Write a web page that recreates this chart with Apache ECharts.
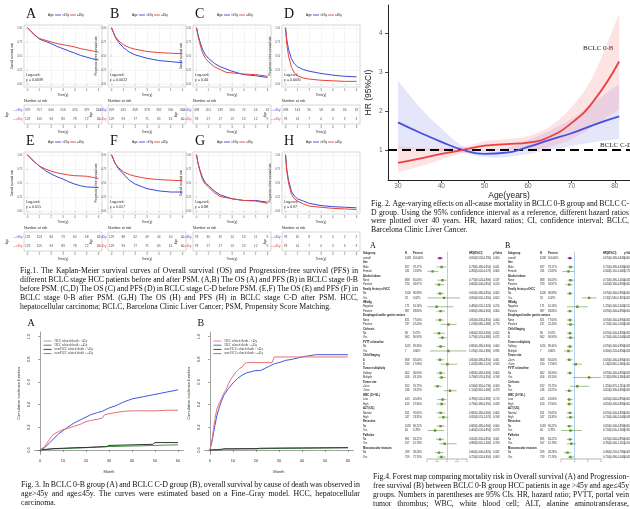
<!DOCTYPE html>
<html><head><meta charset="utf-8">
<script src="https://cdn.jsdelivr.net/npm/echarts@6.0.0/dist/echarts.min.js"></script>
<style>html,body{margin:0;padding:0;background:#fff;}#c{width:630px;height:509px;}</style>
</head><body><div id="c"></div>
<script>
// ================= Fig.1 data (Kaplan-Meier) =================
const kmTimeTicks = [0,1,2,3,4,5,6];
const kmSurvTicks = [0,0.25,0.5,0.75,1];
const kmLetters = ['A','B','C','D','E','F','G','H'];
const kmYTitles = ['Overall survival rate','Progression-free survival rate','Overall survival rate','Progression-free survival rate','Overall survival rate','Progression-free survival rate','Overall survival rate','Progression-free survival rate'];
const kmPValues = ['0.0089','0.0022','0.44','0.0081','0.015','0.017','0.88','0.97'];
const kmGroups = ['>45y','\u226445y'];

const kmA_gt45 = [[0,1],[0.25,0.95],[0.5,0.89],[1,0.80],[1.5,0.76],[2,0.72],[2.5,0.67],[3,0.63],[3.5,0.59],[4,0.55],[4.5,0.51],[5,0.48],[5.5,0.45],[6,0.43]];
const kmA_le45 = [[0,1],[0.25,0.95],[0.5,0.89],[1,0.81],[1.5,0.78],[2,0.75],[2.5,0.72],[3,0.70],[3.5,0.68],[4,0.66],[4.5,0.63],[5,0.61],[5.5,0.59],[6,0.57]];
const kmB_gt45 = [[0,1],[0.3,0.84],[0.6,0.74],[1,0.65],[1.5,0.57],[2,0.52],[2.5,0.49],[3,0.46],[4,0.42],[5,0.40],[6,0.38]];
const kmB_le45 = [[0,1],[0.3,0.85],[0.6,0.77],[1,0.70],[1.5,0.65],[2,0.62],[2.5,0.60],[3,0.58],[4,0.56],[5,0.55],[6,0.54]];
const kmC_gt45 = [[0,1],[0.1,0.9],[0.25,0.78],[0.5,0.62],[0.75,0.52],[1,0.46],[1.5,0.37],[2,0.31],[2.5,0.27],[3,0.23],[3.5,0.2],[4,0.17],[5,0.15],[6,0.12]];
const kmC_le45 = [[0,1],[0.1,0.88],[0.25,0.74],[0.5,0.56],[0.75,0.46],[1,0.40],[1.5,0.31],[2,0.26],[2.5,0.21],[3,0.20],[4,0.18],[5,0.17],[6,0.14]];
const kmD_gt45 = [[0,1],[0.1,0.8],[0.25,0.62],[0.5,0.45],[0.75,0.36],[1,0.31],[1.5,0.26],[2,0.23],[3,0.19],[4,0.16],[5,0.14],[6,0.13]];
const kmD_le45 = [[0,1],[0.1,0.72],[0.25,0.5],[0.5,0.3],[0.75,0.2],[1,0.15],[1.5,0.11],[2,0.09],[3,0.07],[4,0.06],[5,0.05],[6,0.05]];
const kmE_gt45 = [[0,1],[0.5,0.89],[1,0.80],[1.5,0.72],[2,0.66],[2.5,0.61],[3,0.57],[3.5,0.52],[4,0.48],[4.5,0.45],[5,0.43],[6,0.42]];
const kmE_le45 = [[0,1],[0.5,0.89],[1,0.80],[1.5,0.75],[2,0.71],[2.5,0.68],[3,0.66],[3.5,0.64],[4,0.63],[5,0.62],[5.5,0.60],[6,0.58]];
const kmF_gt45 = [[0,1],[0.3,0.85],[0.6,0.75],[1,0.66],[1.5,0.55],[2,0.48],[2.5,0.44],[3,0.40],[4,0.36],[5,0.34],[6,0.34]];
const kmF_le45 = [[0,1],[0.3,0.85],[0.6,0.77],[1,0.70],[1.5,0.65],[2,0.62],[2.5,0.60],[3,0.58],[4,0.56],[5,0.55],[6,0.54]];
const kmG_gt45 = [[0,1],[0.1,0.88],[0.25,0.75],[0.5,0.6],[0.75,0.5],[1,0.46],[1.5,0.36],[2,0.29],[3,0.22],[4,0.19],[5,0.19],[6,0.16]];
const kmG_le45 = [[0,1],[0.1,0.88],[0.25,0.74],[0.5,0.56],[0.75,0.48],[1,0.43],[1.5,0.33],[2,0.26],[3,0.22],[4,0.19],[5,0.18],[6,0.14]];
const kmH_gt45 = [[0,1],[0.1,0.75],[0.25,0.55],[0.5,0.35],[0.75,0.27],[1,0.22],[1.5,0.18],[2,0.14],[3,0.10],[4,0.08],[5,0.07],[6,0.06]];
const kmH_le45 = [[0,1],[0.1,0.72],[0.25,0.5],[0.5,0.3],[0.75,0.22],[1,0.18],[1.5,0.13],[2,0.09],[3,0.07],[4,0.05],[5,0.04],[6,0.03]];

const riskA_gt45 = [929,757,640,556,476,379,293], riskA_le45 = [129,105,94,83,78,72,59];
const riskB_gt45 = [929,625,458,378,332,300,268], riskB_le45 = [129,93,77,71,65,61,60];
const riskC_gt45 = [498,201,139,100,74,54,42],   riskC_le45 = [78,27,17,13,13,12,9];
const riskD_gt45 = [498,143,90,58,44,36,32],     riskD_le45 = [78,14,7,4,3,3,3];
const riskE_gt45 = [129,103,84,73,60,48,37],     riskE_le45 = [129,105,94,83,78,72,59];
const riskF_gt45 = [129,88,62,49,44,40,40],      riskF_le45 = [129,93,77,71,65,61,60];
const riskG_gt45 = [78,30,19,14,13,11,9],        riskG_le45 = [78,27,17,13,13,12,9];
const riskH_gt45 = [78,16,8,3,3,2,2],            riskH_le45 = [78,14,7,4,3,3,3];

// ================= Fig.2 data (age-varying HR) =================
const fig2Ages   = [30,35,40,45,50,55,60,65,70,75,81];
const fig2Red_hr = [0.67,0.78,0.90,1.00,1.11,1.15,1.19,1.34,1.69,2.24,3.27];
const fig2Red_lo = [0.42,0.58,0.75,0.92,0.98,1.00,1.00,1.08,1.28,1.60,2.05];
const fig2Red_hi = [1.10,1.05,1.05,1.08,1.22,1.28,1.36,1.60,2.10,2.90,4.50];
const fig2Blue_hr = [1.71,1.45,1.21,1.00,0.90,0.93,1.08,1.26,1.43,1.64,1.86];
const fig2Blue_lo = [1.03,1.00,0.97,0.92,0.82,0.82,0.90,1.00,1.10,1.20,1.28];
const fig2Blue_hi = [2.78,2.10,1.55,1.10,1.00,1.05,1.25,1.50,1.80,2.20,2.70];
const fig2XTicks = [30,40,50,60,70,80];
const fig2YTicks = [1,2,3,4];

// ================= Fig.3 data (cumulative incidence) =================
const fig3XTicks = [0,10,20,30,40,50,60];
const fig3YTicks = [0,0.2,0.4,0.6,0.8,1.0];
const fig3Legend = ['HCC related death : >45y','HCC related death : \u226445y','non-HCC related death : >45y','non-HCC related death : \u226445y'];
const fig3A_hcc_gt45 = [[0,0],[2,0.03],[3,0.06],[4,0.09],[5,0.12],[6,0.14],[8,0.16],[10,0.18],[12,0.19],[15,0.21],[18,0.23],[20,0.25],[22,0.26],[25,0.27],[27,0.28],[28,0.31],[30,0.32],[33,0.33],[36,0.34],[40,0.345],[50,0.345],[55,0.35],[60,0.35]];
const fig3A_hcc_le45 = [[0,0],[2,0.02],[4,0.06],[6,0.10],[8,0.14],[10,0.17],[12,0.20],[15,0.24],[18,0.27],[20,0.29],[22,0.31],[25,0.33],[27,0.34],[30,0.37],[33,0.39],[36,0.42],[40,0.45],[45,0.47],[50,0.49],[55,0.51],[60,0.53]];
const fig3A_non_gt45 = [[0,0],[3,0.005],[6,0.012],[10,0.015],[15,0.02],[20,0.022],[25,0.027],[29,0.03],[30,0.04],[40,0.045],[49,0.05],[50,0.065],[60,0.065]];
const fig3A_non_le45 = [[0,0],[5,0.01],[10,0.012],[15,0.015],[20,0.02],[25,0.024],[30,0.03],[35,0.032],[40,0.035],[45,0.037],[50,0.04],[55,0.043],[60,0.045]];
const fig3B_hcc_gt45 = [[0,0],[1,0.10],[2,0.25],[3,0.36],[4,0.41],[5,0.45],[6,0.50],[7,0.53],[8,0.58],[9,0.62],[10,0.65],[11,0.68],[12,0.70],[13,0.72],[14,0.73],[15,0.76],[16,0.77],[27,0.77],[28,0.82],[60,0.82]];
const fig3B_hcc_le45 = [[0,0],[1,0.08],[2,0.2],[3,0.3],[4,0.37],[5,0.43],[6,0.48],[8,0.54],[10,0.59],[12,0.63],[14,0.66],[16,0.68],[18,0.69],[20,0.70],[22,0.70],[24,0.72],[26,0.74],[28,0.76],[30,0.77],[33,0.79],[36,0.80],[40,0.82],[43,0.83],[46,0.84],[60,0.84]];
const fig3B_non_gt45 = [[0,0],[5,0.002],[6,0.01],[20,0.012],[22,0.015],[30,0.017],[60,0.02]];
const fig3B_non_le45 = [[0,0],[6,0.008],[20,0.01],[25,0.012],[40,0.015],[60,0.02]];

// ================= Fig.4 data (forest plots) =================
const forestA_labels = ['Subgroup','overall','Sex','Male','Female','Alcohol abuse','None','Positive','Family history of HCC','No','Yes','HBsAg','Negative','Positive','Esophageal and/or gastric varices','None','Positive','Cirrhosis','No','Yes','PVTT at baseline','No','Yes','Child Staging','A','B','Tumor multiplicity','Solitary','Multiple','Tumor size','\u22645cm','>5cm','WBC (10^9/L)','Low','High','ALT (U/L)','Normal','High','Resection','No','Yes','Palliative','No','Yes','Microvascular invasion','No','Yes'];
const forestA_n  = [null,1058,null,827,231,null,688,370,null,1026,32,null,171,887,null,821,237,null,96,962,null,1051,7,null,868,190,null,602,456,null,812,246,null,445,613,null,811,247,null,1018,40,null,891,167,null,299,759];
const forestA_hr = [null,0.65,null,0.73,0.28,null,0.77,0.60,null,0.65,0.85,null,0.48,0.68,null,0.65,1.07,null,0.60,0.77,null,0.68,1.07,null,0.65,1.02,null,0.68,0.73,null,0.53,1.15,null,0.78,0.73,null,0.68,0.82,null,0.68,0.40,null,0.65,0.88,null,0.60,0.72];
const forestA_lo = [null,0.52,null,0.48,0.02,null,0.52,0.40,null,0.48,0.02,null,0.02,0.48,null,0.43,0.68,null,0.32,0.57,null,0.48,0.15,null,0.48,0.68,null,0.48,0.57,null,0.35,0.85,null,0.52,0.48,null,0.48,0.57,null,0.48,0.02,null,0.45,0.62,null,0.40,0.52];
const forestA_hi = [null,0.78,null,0.95,0.57,null,0.98,0.85,null,0.85,1.65,null,1.32,0.90,null,0.85,1.48,null,0.90,0.98,null,0.90,1.98,null,0.85,1.52,null,0.90,0.95,null,0.73,1.48,null,0.98,0.95,null,0.90,1.07,null,0.90,0.85,null,0.85,1.48,null,0.82,0.95];
const forestA_p  = [null,'0.000',null,'0.041','0.004',null,'0.137','0.010',null,'0.005','0.652',null,'0.214','0.004',null,'0.004','0.770',null,'0.012','0.072',null,'0.004','0.935',null,'0.001','0.924',null,'0.004','0.198',null,'0.000','0.473',null,'0.170','0.033',null,'0.004','0.198',null,'0.004','0.073',null,'0.001','0.370',null,'0.032','0.003'];

const forestB_labels = ['Subgroup','overall','Sex','Male','Female','Alcohol abuse','None','Positive','Family history of HCC','No','Yes','HBsAg','Negative','Positive','Esophageal and/or gastric varices','None','Positive','Child Staging','A','B','Tumor multiplicity','Solitary','Multiple','Tumor size','\u22645cm','>5cm','PVTT at baseline','No','Yes','Cirrhosis','No','Yes','WBC (10^9/L)','Low','High','ALT (U/L)','Normal','High','Resection','No','Yes','Palliative','No','Yes','Microvascular invasion','No','Yes'];
const forestB_n  = [null,1058,null,827,231,null,688,370,null,1026,32,null,171,887,null,821,237,null,96,962,null,1051,7,null,868,190,null,602,456,null,812,246,null,445,613,null,811,247,null,1018,40,null,891,167,null,299,759];
const forestB_hr = [null,0.67,null,0.71,0.56,null,0.71,0.62,null,0.67,2.11,null,1.22,0.67,null,0.67,0.71,null,0.67,0.71,null,0.67,0.56,null,0.62,1.11,null,0.67,2.11,null,1.22,0.62,null,0.62,0.62,null,0.67,0.71,null,0.62,0.71,null,0.67,0.78,null,0.49,0.71];
const forestB_lo = [null,0.49,null,0.49,0.11,null,0.49,0.33,null,0.44,1.56,null,0.44,0.44,null,0.44,0.44,null,0.44,0.44,null,0.44,0.22,null,0.40,0.84,null,0.44,0.89,null,0.67,0.33,null,0.44,0.40,null,0.44,0.40,null,0.40,0.02,null,0.44,0.44,null,0.22,0.49];
const forestB_hi = [null,0.84,null,0.93,1.00,null,1.00,0.89,null,0.89,2.67,null,2.00,0.89,null,0.89,1.00,null,0.89,1.00,null,0.89,0.89,null,0.89,1.56,null,0.89,3.56,null,2.11,0.89,null,0.89,0.89,null,0.89,1.00,null,0.89,1.56,null,0.89,1.11,null,0.78,1.00];
const forestB_p  = [null,'0.000',null,'0.003','0.171',null,'0.041','0.002',null,'0.000','0.001',null,'0.512','0.000',null,'0.001','0.045',null,'0.001','0.041',null,'0.001','0.058',null,'0.000','0.402',null,'0.001','0.061',null,'0.433','0.001',null,'0.001','0.002',null,'0.000','0.049',null,'0.000','0.392',null,'0.001','0.254',null,'0.001','0.043'];

// ================= Captions =================
const cap1Lines = [
 'Fig.1. The Kaplan-Meier survival curves of Overall survival (OS) and Progression-free survival (PFS) in',
 'different BCLC stage HCC patients before and after PSM. (A,B) The OS (A) and PFS (B) in BCLC stage 0-B',
 'before PSM. (C,D) The OS (C) and PFS (D) in BCLC stage C-D before PSM. (E,F) The OS (E) and PFS (F) in',
 'BCLC stage 0-B after PSM. (G,H) The OS (H) and PFS (H) in BCLC stage C-D after PSM. HCC,',
 'hepatocellular carcinoma; BCLC, Barcelona Clinic Liver Cancer; PSM, Propensity Score Matching.'];
const cap2Lines = [
 'Fig. 2. Age-varying effects on all-cause mortality in BCLC 0-B group and BCLC C-',
 'D group. Using the 95% confidence interval as a reference, different hazard ratios',
 'were plotted over 40 years. HR, hazard ratios; CI, confidence interval; BCLC,',
 'Barcelona Clinic Liver Cancer.'];
const cap3Lines = [
 'Fig. 3. In BCLC 0-B group (A) and BCLC C-D group (B), overall survival by cause of death was observed in',
 'age>45y and age\u226445y. The curves were estimated based on a Fine\u2013Gray model. HCC, hepatocellular',
 'carcinoma.'];
const cap4Lines = [
 'Fig.4. Forest map comparing mortality risk in Overall survival (A) and Progression-',
 'free survival (B) between BCLC 0-B group HCC patients in age >45y and age\u226445y',
 'groups. Numbers in parentheses are 95% CIs. HR, hazard ratio; PVTT, portal vein',
 'tumor thrombus; WBC, white blood cell; ALT, alanine aminotransferase,'];

// ================= build =================
const BLUE = '#3c48d6', RED = '#e8433a';
const SANS = '"Liberation Sans", Arial, sans-serif';
const SERIF = '"Liberation Serif", "Times New Roman", serif';
const grids = [], xAxes = [], yAxes = [], series = [], graphics = [];
function addGrid(g) { grids.push(Object.assign({ containLabel: false }, g)); return grids.length - 1; }
function txt(x, y, text, o) {
  o = o || {};
  graphics.push({ type: 'text', x, y, silent: true, rotation: o.rotation || 0,
    style: { text, fill: o.color || '#222', fontSize: o.size || 4, fontFamily: o.family || SANS,
      fontWeight: o.weight || 'normal', align: o.align || 'left', verticalAlign: o.va || 'middle' } });
}
function seg(x1, y1, x2, y2, color, w) {
  graphics.push({ type: 'line', silent: true, shape: { x1, y1, x2, y2 }, style: { stroke: color, lineWidth: w || 1 } });
}

// ---- Fig.1 ----
const kmCurves = [[kmA_gt45,kmA_le45],[kmB_gt45,kmB_le45],[kmC_gt45,kmC_le45],[kmD_gt45,kmD_le45],[kmE_gt45,kmE_le45],[kmF_gt45,kmF_le45],[kmG_gt45,kmG_le45],[kmH_gt45,kmH_le45]];
const kmRisk = [[riskA_gt45,riskA_le45],[riskB_gt45,riskB_le45],[riskC_gt45,riskC_le45],[riskD_gt45,riskD_le45],[riskE_gt45,riskE_le45],[riskF_gt45,riskF_le45],[riskG_gt45,riskG_le45],[riskH_gt45,riskH_le45]];
const kmCols = [24, 108, 193, 282], kmW = 78, kmH = 62;
const kmTops = [25, 152], riskTops = [105, 232], riskH = 19;
kmLetters.forEach((letter, i) => {
  const col = i % 4, row = Math.floor(i / 4);
  const left = kmCols[col], top = kmTops[row];
  const gi = addGrid({ left, top, width: kmW, height: kmH, show: true, borderColor: '#bdbdbd', borderWidth: 0.6 });
  xAxes.push({ gridIndex: gi, type: 'value', min: -0.3, max: 6.3, splitNumber: 7,
    name: 'Time(y)', nameLocation: 'middle', nameGap: 7, nameTextStyle: { fontSize: 3.2, color: '#333', fontFamily: SANS },
    axisLine: { show: false },
    axisTick: { show: true, customValues: kmTimeTicks, length: 1.2, lineStyle: { color: '#888', width: 0.4 } },
    axisLabel: { customValues: kmTimeTicks, fontSize: 2.8, color: '#555', margin: 2.2 },
    splitLine: { show: true, lineStyle: { color: '#ebebeb', width: 0.5 } } });
  yAxes.push({ gridIndex: gi, type: 'value', min: -0.05, max: 1.05, splitNumber: 4,
    name: kmYTitles[i], nameLocation: 'middle', nameGap: 8, nameRotate: 90, nameTextStyle: { fontSize: 3, color: '#333', fontFamily: SANS },
    axisLine: { show: false },
    axisTick: { show: true, customValues: kmSurvTicks, length: 1.2, lineStyle: { color: '#888', width: 0.4 } },
    axisLabel: { customValues: kmSurvTicks, fontSize: 2.6, color: '#555', margin: 1.8, formatter: v => v.toFixed(2) },
    splitLine: { show: true, lineStyle: { color: '#ebebeb', width: 0.5 } } });
  [0, 1].forEach(k => series.push({ type: 'line', xAxisIndex: gi, yAxisIndex: gi, data: kmCurves[i][k], symbol: 'none',
    lineStyle: { color: k === 0 ? BLUE : RED, width: 1 }, silent: true, z: k === 0 ? 3 : 4 }));
  txt(left + 2, top - 11, letter, { size: 14, family: SERIF, color: '#111' });
  const lx = left + 24, ly = top - 10;
  txt(lx, ly, 'Age', { size: 3.2 });
  seg(lx + 7, ly, lx + 13, ly, BLUE, 0.9); txt(lx + 14, ly, kmGroups[0], { size: 3.2 });
  seg(lx + 22, ly, lx + 28, ly, RED, 0.9); txt(lx + 29, ly, kmGroups[1], { size: 3.2 });
  txt(left + 2, top + kmH - 12, 'Log-rank', { size: 3.6 });
  txt(left + 2, top + kmH - 7, 'p = ' + kmPValues[i], { size: 3.6 });
  const rt = riskTops[row];
  const ri = addGrid({ left, top: rt, width: kmW, height: riskH, show: true, borderColor: '#bdbdbd', borderWidth: 0.6 });
  xAxes.push({ gridIndex: ri, type: 'value', min: -0.3, max: 6.3, splitNumber: 7,
    name: 'Time(y)', nameLocation: 'middle', nameGap: 7, nameTextStyle: { fontSize: 3.2, color: '#333', fontFamily: SANS },
    axisLine: { show: false },
    axisTick: { show: true, customValues: kmTimeTicks, length: 1.2, lineStyle: { color: '#888', width: 0.4 } },
    axisLabel: { customValues: kmTimeTicks, fontSize: 2.8, color: '#555', margin: 2.2 },
    splitLine: { show: false } });
  yAxes.push({ gridIndex: ri, type: 'category', data: [kmGroups[1], kmGroups[0]],
    name: 'Age', nameLocation: 'middle', nameGap: 10, nameRotate: 90, nameTextStyle: { fontSize: 3.2, color: '#333' },
    axisLine: { show: false }, axisTick: { show: false },
    axisLabel: { fontSize: 3, margin: 1.5, formatter: v => '\u2014' + v, color: (v) => v === kmGroups[0] ? BLUE : RED } });
  const rdata = [];
  kmTimeTicks.forEach((t, k) => { rdata.push([t, 1, kmRisk[i][0][k]]); rdata.push([t, 0, kmRisk[i][1][k]]); });
  series.push({ type: 'scatter', xAxisIndex: ri, yAxisIndex: ri, data: rdata, symbolSize: 1, itemStyle: { color: 'rgba(0,0,0,0)' }, silent: true,
    label: { show: true, position: 'inside', formatter: p => p.value[2], fontSize: 3.2, color: '#222' } });
  txt(left, rt - 4.5, 'Number at risk', { size: 3.6 });
});

// ---- Fig.2 ----
const g2 = addGrid({ left: 388, top: 5, width: 242, height: 175 });
xAxes.push({ gridIndex: g2, type: 'value', min: 27.7, max: 83.5,
  name: 'Age(years)', nameLocation: 'middle', nameGap: 11, nameTextStyle: { fontSize: 8.5, color: '#222', fontFamily: SANS },
  axisLine: { show: true, lineStyle: { color: '#222', width: 1 } },
  axisTick: { show: true, customValues: fig2XTicks, length: 3, lineStyle: { color: '#222', width: 0.8 } },
  axisLabel: { customValues: fig2XTicks, fontSize: 6.5, color: '#666', margin: 2.5 }, splitLine: { show: false } });
yAxes.push({ gridIndex: g2, type: 'value', min: 0.23, max: 4.72,
  name: 'HR (95%CI)', nameLocation: 'middle', nameGap: 15, nameRotate: 90, nameTextStyle: { fontSize: 8.5, color: '#222', fontFamily: SANS },
  axisLine: { show: true, lineStyle: { color: '#222', width: 1 } },
  axisTick: { show: true, customValues: fig2YTicks, length: 3, lineStyle: { color: '#222', width: 0.8 } },
  axisLabel: { customValues: fig2YTicks, fontSize: 6.5, color: '#666', margin: 5.5 }, splitLine: { show: false } });
function smoothPts(pts) {
  const out = [];
  for (let i = 0; i < pts.length - 1; i++) {
    const p0 = pts[Math.max(0, i - 1)], p1 = pts[i], p2 = pts[i + 1], p3 = pts[Math.min(pts.length - 1, i + 2)];
    for (let s = 0; s < 10; s++) {
      const t = s / 10, t2 = t * t, t3 = t2 * t;
      out.push([0, 1].map(d => 0.5 * ((2 * p1[d]) + (-p0[d] + p2[d]) * t + (2 * p0[d] - 5 * p1[d] + 4 * p2[d] - p3[d]) * t2 + (-p0[d] + 3 * p1[d] - 3 * p2[d] + p3[d]) * t3)));
    }
  }
  out.push(pts[pts.length - 1]);
  return out;
}
function band(lo, hi, color) {
  series.push({ type: 'custom', xAxisIndex: g2, yAxisIndex: g2, silent: true, clip: true, z: 2,
    data: fig2Ages.map((a, i) => [a, lo[i], hi[i]]), encode: { x: 0, y: [1, 2] },
    renderItem(params, api) {
      if (params.dataIndex !== 0) return;
      const up = fig2Ages.map((a, i) => api.coord([a, hi[i]]));
      const dn = fig2Ages.map((a, i) => api.coord([a, lo[i]]));
      const pts = smoothPts(up).concat(smoothPts(dn).reverse());
      return { type: 'polygon', shape: { points: pts }, style: { fill: color } };
    } });
}
band(fig2Blue_lo, fig2Blue_hi, 'rgba(140,140,235,0.22)');
band(fig2Red_lo, fig2Red_hi, 'rgba(245,140,140,0.24)');
series.push({ type: 'line', xAxisIndex: g2, yAxisIndex: g2, smooth: true, symbol: 'none', silent: true, z: 5,
  data: fig2Ages.map((a, i) => [a, fig2Blue_hr[i]]), lineStyle: { color: '#4650e0', width: 1.8 } });
series.push({ type: 'line', xAxisIndex: g2, yAxisIndex: g2, smooth: true, symbol: 'none', silent: true, z: 5,
  data: fig2Ages.map((a, i) => [a, fig2Red_hr[i]]), lineStyle: { color: '#ec4040', width: 1.8 },
  markLine: { silent: true, symbol: 'none', label: { show: false }, lineStyle: { color: '#000', width: 1.8, type: [9, 5] }, data: [{ yAxis: 1 }] } });
txt(583, 48, 'BCLC 0-B', { size: 7, family: SERIF, color: '#222' });
txt(600, 145, 'BCLC C-D', { size: 7, family: SERIF, color: '#222' });

// ---- Fig.3 ----
function fig3Panel(left, letter, curves) {
  const gi = addGrid({ left, top: 332, width: 149, height: 122.5 });
  xAxes.push({ gridIndex: gi, type: 'value', min: -2.4, max: 62.4,
    name: 'Month', nameLocation: 'middle', nameGap: 15, nameTextStyle: { fontSize: 4, color: '#333', fontFamily: SANS },
    axisLine: { show: true, lineStyle: { color: '#444', width: 0.5 } },
    axisTick: { show: true, customValues: fig3XTicks, length: 2, lineStyle: { color: '#444', width: 0.5 } },
    axisLabel: { customValues: fig3XTicks, fontSize: 4, color: '#333', margin: 4 }, splitLine: { show: false } });
  yAxes.push({ gridIndex: gi, type: 'value', min: -0.04, max: 1.04,
    name: 'Cumulative incidence function', nameLocation: 'middle', nameGap: 14, nameRotate: 90, nameTextStyle: { fontSize: 4, color: '#333', fontFamily: SANS },
    axisLine: { show: true, lineStyle: { color: '#444', width: 0.5 } },
    axisTick: { show: true, customValues: fig3YTicks, length: 2, lineStyle: { color: '#444', width: 0.5 } },
    axisLabel: { customValues: fig3YTicks, fontSize: 4, color: '#333', margin: 4, rotate: 90, formatter: v => v.toFixed(1) }, splitLine: { show: false } });
  const cols = ['#e57373', '#4457e0', '#333333', '#3f9a3f'];
  curves.forEach((c, k) => series.push({ type: 'line', xAxisIndex: gi, yAxisIndex: gi, data: c, symbol: 'none', silent: true,
    lineStyle: { color: cols[k], width: 1 }, z: 4 - k }));
  txt(left - 7, 323, letter, { size: 10, family: SERIF, color: '#111' });
  fig3Legend.forEach((l, k) => {
    const y = 341 + k * 4.2;
    seg(left + 9, y, left + 17, y, cols[k], 0.9);
    txt(left + 20, y, l, { size: 3.2, family: SERIF, color: '#333' });
  });
}
fig3Panel(34.5, 'A', [fig3A_hcc_gt45, fig3A_hcc_le45, fig3A_non_gt45, fig3A_non_le45]);
fig3Panel(204.4, 'B', [fig3B_hcc_gt45, fig3B_hcc_le45, fig3B_non_gt45, fig3B_non_le45]);

// ---- Fig.4 ----
const fTop = 251.5, fRowH = 4.42;
function forestPanel(c) {
  const rows = c.labels.length;
  const gi = addGrid({ left: c.plotLeft, width: c.plotW, top: fTop, height: rows * fRowH });
  xAxes.push({ gridIndex: gi, type: 'value', min: c.min, max: c.max, interval: c.interval,
    axisLine: { show: true, lineStyle: { color: '#444', width: 0.4 } },
    axisTick: { show: true, length: 1.2, lineStyle: { color: '#444', width: 0.4 } },
    axisLabel: { fontSize: 2.4, color: '#444', margin: 1.5 }, splitLine: { show: false } });
  yAxes.push({ gridIndex: gi, type: 'category', inverse: true, data: c.labels.map((_, i) => String(i)), show: false });
  const data = [];
  c.hr.forEach((v, i) => { if (v != null) data.push([v, i, c.lo[i], c.hi[i], i === 1 ? 1 : 0]); });
  series.push({ type: 'custom', xAxisIndex: gi, yAxisIndex: gi, clip: true, silent: true, encode: { x: 0, y: 1 }, data, z: 5,
    renderItem(params, api) {
      const yv = api.value(1);
      const p = api.coord([api.value(0), yv]);
      const a = api.coord([api.value(2), yv]);
      const b = api.coord([api.value(3), yv]);
      const ov = api.value(4) === 1;
      const ch = [{ type: 'line', shape: { x1: a[0], y1: p[1], x2: b[0], y2: p[1] }, style: { stroke: ov ? '#7d1f86' : '#4d7d22', lineWidth: 0.5 } }];
      if (ov) ch.push({ type: 'polygon', shape: { points: [[a[0], p[1]], [p[0], p[1] - 1.3], [b[0], p[1]], [p[0], p[1] + 1.3]] }, style: { fill: '#8a1f95' } });
      else ch.push({ type: 'rect', shape: { x: p[0] - 1.2, y: p[1] - 1.2, width: 2.4, height: 2.4 }, style: { fill: '#5c9a2c' } });
      return { type: 'group', children: ch };
    },
    markLine: { silent: true, symbol: 'none', label: { show: false }, lineStyle: { color: '#8fc0e6', width: 0.7, type: 'solid' }, data: [{ xAxis: 1 }] } });
  txt(c.letterX, 246, c.letter, { size: 8, family: SERIF, color: '#111' });
  c.labels.forEach((lab, i) => {
    const y = fTop + (i + 0.5) * fRowH;
    const head = i === 0;
    const group = c.hr[i] == null && !head;
    txt(c.colSub, y, lab, { size: 2.6, weight: (head || group) ? 'bold' : 'normal', color: '#222' });
    if (head) {
      txt(c.colN, y, 'N', { size: 2.6, weight: 'bold' }); txt(c.colPct, y, 'Percent', { size: 2.6, weight: 'bold' });
      txt(c.colHR, y, 'HR(95%CI)', { size: 2.6, weight: 'bold' }); txt(c.colP, y, 'p Value', { size: 2.6, weight: 'bold' });
    } else if (!group) {
      txt(c.colN, y, String(c.n[i]), { size: 2.6 });
      txt(c.colPct, y, (c.n[i] / c.n[1] * 100).toFixed(2) + '%', { size: 2.6 });
      txt(c.colHR, y, c.hr[i].toFixed(3) + '(' + c.lo[i].toFixed(3) + '-' + c.hi[i].toFixed(3) + ')', { size: 2.6 });
      txt(c.colP, y, c.p[i], { size: 2.6 });
    }
  });
}
forestPanel({ letter: 'A', letterX: 370, labels: forestA_labels, n: forestA_n, hr: forestA_hr, lo: forestA_lo, hi: forestA_hi, p: forestA_p,
  plotLeft: 427, plotW: 40, min: 0, max: 2, interval: 0.5, colSub: 363, colN: 405, colPct: 413, colHR: 469, colP: 493 });
forestPanel({ letter: 'B', letterX: 505, labels: forestB_labels, n: forestB_n, hr: forestB_hr, lo: forestB_lo, hi: forestB_hi, p: forestB_p,
  plotLeft: 561, plotW: 40, min: 0, max: 3, interval: 1, colSub: 508, colN: 540, colPct: 548, colHR: 603, colP: 624 });

// ---- captions (justified) ----
const mctx = document.createElement('canvas').getContext('2d');
function caption(lines, x, y0, width, lh, justifyLast) {
  let size = 8;
  mctx.font = size + 'px ' + SERIF;
  lines.forEach((line, i) => {
    const last = i === lines.length - 1 && !justifyLast;
    if (last) return;
    const words = line.split(' ');
    const nat = words.reduce((s, w) => s + mctx.measureText(w).width, 0);
    const need = (width - (words.length - 1) * 1.6) / nat * 8;
    if (need < size) size = need;
  });
  mctx.font = size + 'px ' + SERIF;
  lines.forEach((line, i) => {
    const y = y0 + i * lh;
    const last = i === lines.length - 1 && !justifyLast;
    const words = line.split(' ');
    if (last || words.length < 2) { txt(x, y, line, { size, family: SERIF, color: '#111' }); return; }
    const ws = words.map(w => mctx.measureText(w).width);
    const gap = (width - ws.reduce((s, v) => s + v, 0)) / (words.length - 1);
    let cx = x;
    words.forEach((w, k) => { txt(cx, y, w, { size, family: SERIF, color: '#111' }); cx += ws[k] + gap; });
  });
}
caption(cap1Lines, 20, 271, 338, 9, false);
caption(cap2Lines, 371, 204, 258, 8.5, false);
caption(cap3Lines, 21, 485, 339, 9, false);
caption(cap4Lines, 373, 477, 256, 9, true);

const chart = echarts.init(document.getElementById('c'), null, { renderer: 'canvas', width: 630, height: 509 });
chart.setOption({ animation: false, backgroundColor: '#fff', grid: grids, xAxis: xAxes, yAxis: yAxes, series, graphic: { elements: graphics } });
</script></body></html>
